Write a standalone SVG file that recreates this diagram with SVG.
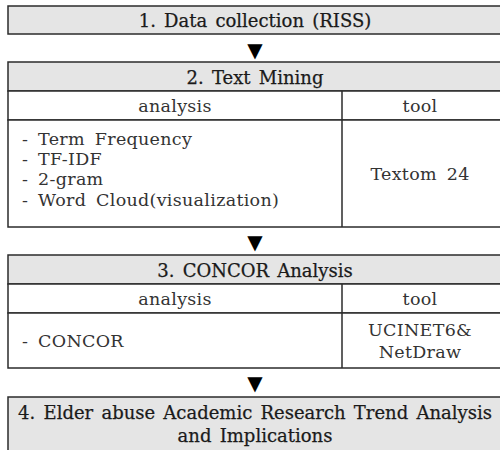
<svg xmlns="http://www.w3.org/2000/svg" width="500" height="450" viewBox="0 0 500 450">
<style>
.hdr{fill:#e5e5e5;stroke:#2b2b2b;stroke-width:1.5}
.cell{fill:#ffffff;stroke:#2b2b2b;stroke-width:1.5}
.ln{stroke:#2b2b2b;stroke-width:1.5;fill:none}
text{font-family:'DejaVu Serif','Liberation Serif',serif;fill:#1a1a1a}
.h{font-size:18px;text-anchor:middle;stroke:#1a1a1a;stroke-width:0.25;word-spacing:2.5px}
.b{font-size:17.5px;fill:#333;word-spacing:4px;letter-spacing:0.3px}
.c{text-anchor:middle}
.arr{font-family:'DejaVu Sans',sans-serif;font-size:20px;text-anchor:middle;fill:#000}
</style>
<rect width="500" height="450" fill="#ffffff"/>
<g id="step1">
<rect class="hdr" x="8" y="6" width="496" height="28"/>
<text class="h" x="255" y="27">1. Data collection (RISS)</text>
</g>
<g id="step2">
<rect class="hdr" x="8" y="62" width="496" height="29"/>
<text class="h" x="255" y="84">2. Text Mining</text>
<rect class="cell" x="8" y="91" width="496" height="29"/>
<rect class="cell" x="8" y="120" width="496" height="107"/>
<line class="ln" x1="342" y1="91" x2="342" y2="227"/>
<text class="b c" x="175" y="112">analysis</text>
<text class="b c" x="420" y="112">tool</text>
<text class="b" x="22" y="145">- Term Frequency</text>
<text class="b" x="22" y="165">- TF-IDF</text>
<text class="b" x="22" y="185">- 2-gram</text>
<text class="b" x="22" y="206">- Word Cloud(visualization)</text>
<text class="b c" x="420" y="180">Textom 24</text>
</g>
<g id="step3">
<rect class="hdr" x="8" y="255" width="496" height="29"/>
<text class="h" x="255" y="277">3. CONCOR Analysis</text>
<rect class="cell" x="8" y="284" width="496" height="29"/>
<rect class="cell" x="8" y="313" width="496" height="55"/>
<line class="ln" x1="342" y1="284" x2="342" y2="368"/>
<text class="b c" x="175" y="305">analysis</text>
<text class="b c" x="420" y="305">tool</text>
<text class="b" x="22" y="347">- CONCOR</text>
<text class="b c" x="420" y="336">UCINET6&amp;</text>
<text class="b c" x="420" y="358">NetDraw</text>
</g>
<g id="step4">
<rect class="hdr" x="8" y="397" width="496" height="60"/>
<text class="h" x="255" y="419">4. Elder abuse Academic Research Trend Analysis</text>
<text class="h" x="255" y="442">and Implications</text>
</g>
<g id="connectors">
<text class="arr" x="255" y="57">▼</text>
<text class="arr" x="255" y="249">▼</text>
<text class="arr" x="255" y="390">▼</text>
</g>
</svg>
